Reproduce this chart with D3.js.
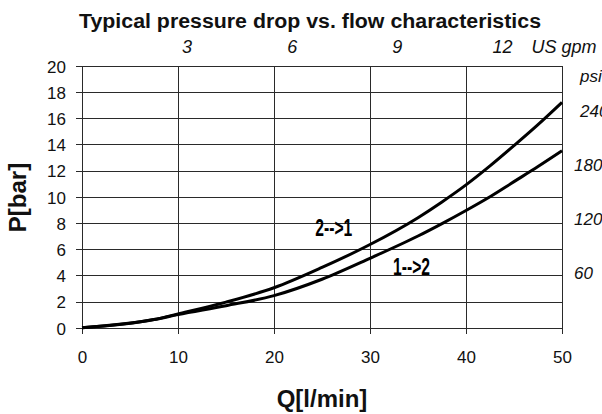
<!DOCTYPE html>
<html><head><meta charset="utf-8">
<script src="https://cdn.jsdelivr.net/npm/d3@7"></script>
<style>
body{margin:0;background:#fff}
svg{display:block;font-family:"Liberation Sans",Arial,Helvetica,sans-serif}
</style>
</head><body>
<svg id="c" width="602" height="414"></svg>
<script>
// ---- data ----
const flow = [0, 7.5, 10, 15, 20, 25, 30, 35, 37.5, 40, 42.5, 45, 47.5, 50];               // Q [l/min]
const dp21 = [0, 0.62, 1.05, 1.95, 3.05, 4.6, 6.35, 8.4, 9.6, 10.9, 12.35, 13.9, 15.5, 17.2];   // 2-->1 [bar]
const dp12 = [0, 0.62, 1.0, 1.68, 2.45, 3.7, 5.3, 7.0, 7.95, 8.95, 10.0, 11.15, 12.3, 13.5];    // 1-->2 [bar]
const xTicks = [0, 10, 20, 30, 40, 50];
const yTicks = [0, 2, 4, 6, 8, 10, 12, 14, 16, 18, 20];
const gpmTicks = [3, 6, 9, 12];
const lminPerGpm = 3.65;      // spacing of the US gpm labels as drawn
const psiTicks = [60, 120, 180, 240];
const psiPerBar = 14.5;
const title = "Typical pressure drop vs. flow characteristics";
const seriesLabels = [
  {text: "2-->1", q: 24.3, p: 7.0},
  {text: "1-->2", q: 32.4, p: 4.0}
];

// ---- drawing ----
const svg = d3.select("#c");
const x = d3.scaleLinear().domain([0, 50]).range([82, 562]);
const y = d3.scaleLinear().domain([0, 20]).range([327.7, 65.7]);
const gridCol = "#2a2a2a";

// horizontal grid + left labels
const yAxis = svg.append("g").attr("transform", `translate(${x(0)},0)`)
  .call(d3.axisLeft(y).tickValues(yTicks).tickSize(-(x(50) - x(0))).tickPadding(16).tickFormat(d3.format("d")));
yAxis.select(".domain").remove();
yAxis.selectAll(".tick line").attr("x1", -6).attr("stroke", gridCol).attr("shape-rendering", "crispEdges");
yAxis.selectAll(".tick text").attr("font-size", 17).attr("fill", "#111").attr("font-family", null).attr("dy", "0.38em");

// vertical grid + bottom labels
const xAxis = svg.append("g").attr("transform", `translate(0,${y(0)})`)
  .call(d3.axisBottom(x).tickValues(xTicks).tickSize(-(y(0) - y(20))).tickPadding(23).tickFormat(d3.format("d")));
xAxis.select(".domain").remove();
xAxis.selectAll(".tick line").attr("y1", 6).attr("stroke", gridCol).attr("shape-rendering", "crispEdges");
xAxis.selectAll(".tick text").attr("font-size", 17).attr("fill", "#111").attr("font-family", null);

// curves
const line = d3.line().x(d => x(d[0])).y(d => y(d[1])).curve(d3.curveMonotoneX);
[dp21, dp12].forEach(s => {
  svg.append("path").datum(flow.map((q, i) => [q, s[i]]))
    .attr("d", line).attr("fill", "none").attr("stroke", "#000")
    .attr("stroke-width", 3).attr("stroke-linejoin", "round");
});

// series labels
seriesLabels.forEach(l => {
  svg.append("text").attr("x", x(l.q)).attr("y", y(l.p))
    .attr("font-size", 24).attr("font-weight", "bold")
    .attr("textLength", 37).attr("lengthAdjust", "spacingAndGlyphs")
    .text(l.text);
});

// top US gpm axis
svg.append("g").selectAll("text").data(gpmTicks).join("text")
  .attr("x", d => x(d * lminPerGpm)).attr("y", 52.5)
  .attr("text-anchor", "middle").attr("font-size", 18).attr("font-style", "italic").attr("fill", "#111")
  .text(d => d);
svg.append("text").attr("x", 531.5).attr("y", 52.5)
  .attr("font-size", 18).attr("font-style", "italic").attr("fill", "#111").text("US gpm");

// right psi axis
svg.append("g").selectAll("text").data(psiTicks).join("text")
  .attr("x", d => d === 240 ? 580 : 574).attr("y", d => y(d / psiPerBar) + 6)
  .attr("font-size", 17).attr("font-style", "italic").attr("fill", "#111")
  .text(d => d);
svg.append("text").attr("x", 580).attr("y", y(20) + 16)
  .attr("font-size", 17).attr("font-style", "italic").attr("fill", "#111").text("psi");

// title
svg.append("text").attr("x", 310).attr("y", 28)
  .attr("text-anchor", "middle").attr("font-size", 20).attr("font-weight", "bold").attr("fill", "#111")
  .attr("textLength", 462).attr("lengthAdjust", "spacingAndGlyphs")
  .text(title);

// axis titles
svg.append("text").attr("x", 322).attr("y", 407)
  .attr("text-anchor", "middle").attr("font-size", 24).attr("font-weight", "bold").attr("fill", "#111")
  .text("Q[l/min]");
svg.append("text").attr("transform", "translate(26,197.5) rotate(-90)")
  .attr("text-anchor", "middle").attr("font-size", 24).attr("font-weight", "bold").attr("fill", "#111")
  .text("P[bar]");
</script>
</body></html>
